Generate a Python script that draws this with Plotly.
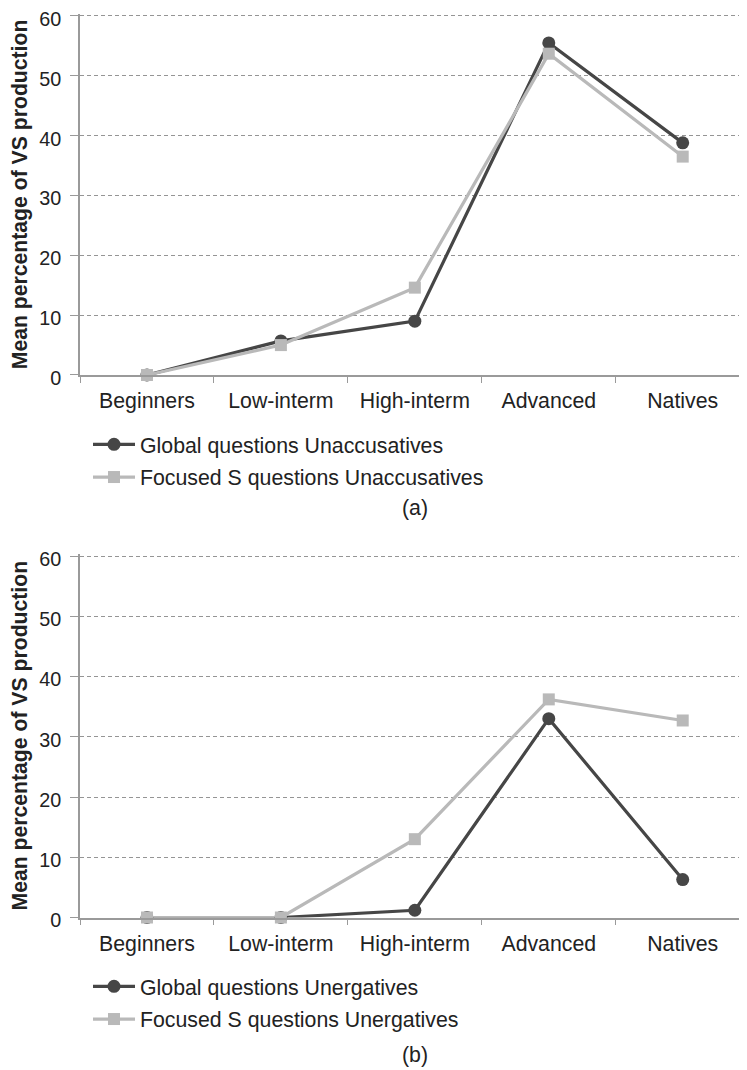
import plotly.graph_objects as go

categories = ["Beginners", "Low-interm", "High-interm", "Advanced", "Natives"]

global_unacc = [0, 5.7, 9.0, 55.5, 38.8]
focused_unacc = [0, 5.0, 14.6, 53.7, 36.5]
global_unerg = [0, 0, 1.2, 33.0, 6.3]
focused_unerg = [0, 0, 13.0, 36.2, 32.7]

names_a = ["Global questions Unaccusatives", "Focused S questions Unaccusatives"]
names_b = ["Global questions Unergatives", "Focused S questions Unergatives"]
y_ticks = [0, 10, 20, 30, 40, 50, 60]

DARK = "#464646"
LIGHT = "#b9b9b9"
FONT = "Liberation Sans, Arial, sans-serif"
# page has an 8px body margin, so the figure is sized/positioned to compensate
OFF = 8
W, H = 747 - OFF, 1070 - OFF
YMAX = 60.35  # small headroom so the 60 gridline is kept

fig = go.Figure()

def add(y, name, color, symbol, xa, ya, legend):
    fig.add_trace(go.Scatter(
        x=categories, y=y, name=name, mode="lines+markers",
        line=dict(color=color, width=3.2),
        marker=dict(color=color, symbol=symbol, size=13 if symbol == "circle" else 12),
        xaxis=xa, yaxis=ya, legend=legend, legendgroup=name,
        cliponaxis=False,
    ))

add(global_unacc, names_a[0], DARK, "circle", "x", "y", "legend")
add(focused_unacc, names_a[1], LIGHT, "square", "x", "y", "legend")
add(global_unerg, names_b[0], DARK, "circle", "x2", "y2", "legend2")
add(focused_unerg, names_b[1], LIGHT, "square", "x2", "y2", "legend2")

def py(p):  # p = page pixel y
    return 1 - (p - OFF) / H

def px(p):  # p = page pixel x
    return (p - OFF) / W

def ydom(p0, p60):
    top = p0 - (p0 - p60) * YMAX / 60
    return [py(p0), py(top)]

x_dom = [px(80), 1.0]
xaxis_common = dict(
    domain=x_dom, range=[-0.5, 4.48], type="category",
    showline=True, linecolor="#9a9a9a", linewidth=1.5,
    ticks="outside", tickson="boundaries", ticklen=6, tickcolor="#9a9a9a",
    showgrid=False, tickfont=dict(size=21.3, color="#222", family=FONT),
    ticklabelstandoff=6, automargin=False, fixedrange=True,
)
yaxis_common = dict(
    range=[0, YMAX], tickvals=y_ticks, showline=True, linecolor="#9a9a9a", linewidth=1.5,
    ticks="outside", ticklen=8, tickcolor="#9a9a9a",
    showgrid=True, gridcolor="#959595", griddash="4px,3px", gridwidth=1,
    zeroline=False, tickfont=dict(size=19.8, color="#222", family=FONT),
    ticklabelstandoff=5, ticklabeloverflow="allow", ticklabelshift=3,
    title=dict(text="<b>Mean percentage of VS production</b>",
               font=dict(size=21.2, color="#222", family=FONT), standoff=10),
    automargin=False, fixedrange=True,
)

legend_font = dict(size=21.3, color="#222", family=FONT)

fig.update_layout(
    width=W, height=H, margin=dict(l=0, r=0, t=0, b=0, autoexpand=False),
    paper_bgcolor="white", plot_bgcolor="white",
    font=dict(family=FONT, color="#222"),
    xaxis=dict(**xaxis_common, anchor="y"),
    yaxis=dict(**yaxis_common, domain=ydom(375, 16), anchor="x"),
    xaxis2=dict(**xaxis_common, anchor="y2"),
    yaxis2=dict(**yaxis_common, domain=ydom(917.5, 556), anchor="x2"),
    legend=dict(x=px(88), y=py(424), xanchor="left", yanchor="top",
                font=legend_font, tracegroupgap=2, itemwidth=42,
                bgcolor="rgba(0,0,0,0)"),
    legend2=dict(x=px(88), y=py(966), xanchor="left", yanchor="top",
                 font=legend_font, tracegroupgap=2, itemwidth=42,
                 bgcolor="rgba(0,0,0,0)"),
    showlegend=True,
)

fig.add_annotation(text="(a)", x=px(415), y=py(508), xref="paper", yref="paper",
                   yanchor="middle", showarrow=False,
                   font=dict(size=21.3, color="#222", family=FONT))
fig.add_annotation(text="(b)", x=px(415), y=py(1069), xref="paper", yref="paper",
                   yanchor="bottom", showarrow=False,
                   font=dict(size=21.3, color="#222", family=FONT))

fig.write_html("out.html")
